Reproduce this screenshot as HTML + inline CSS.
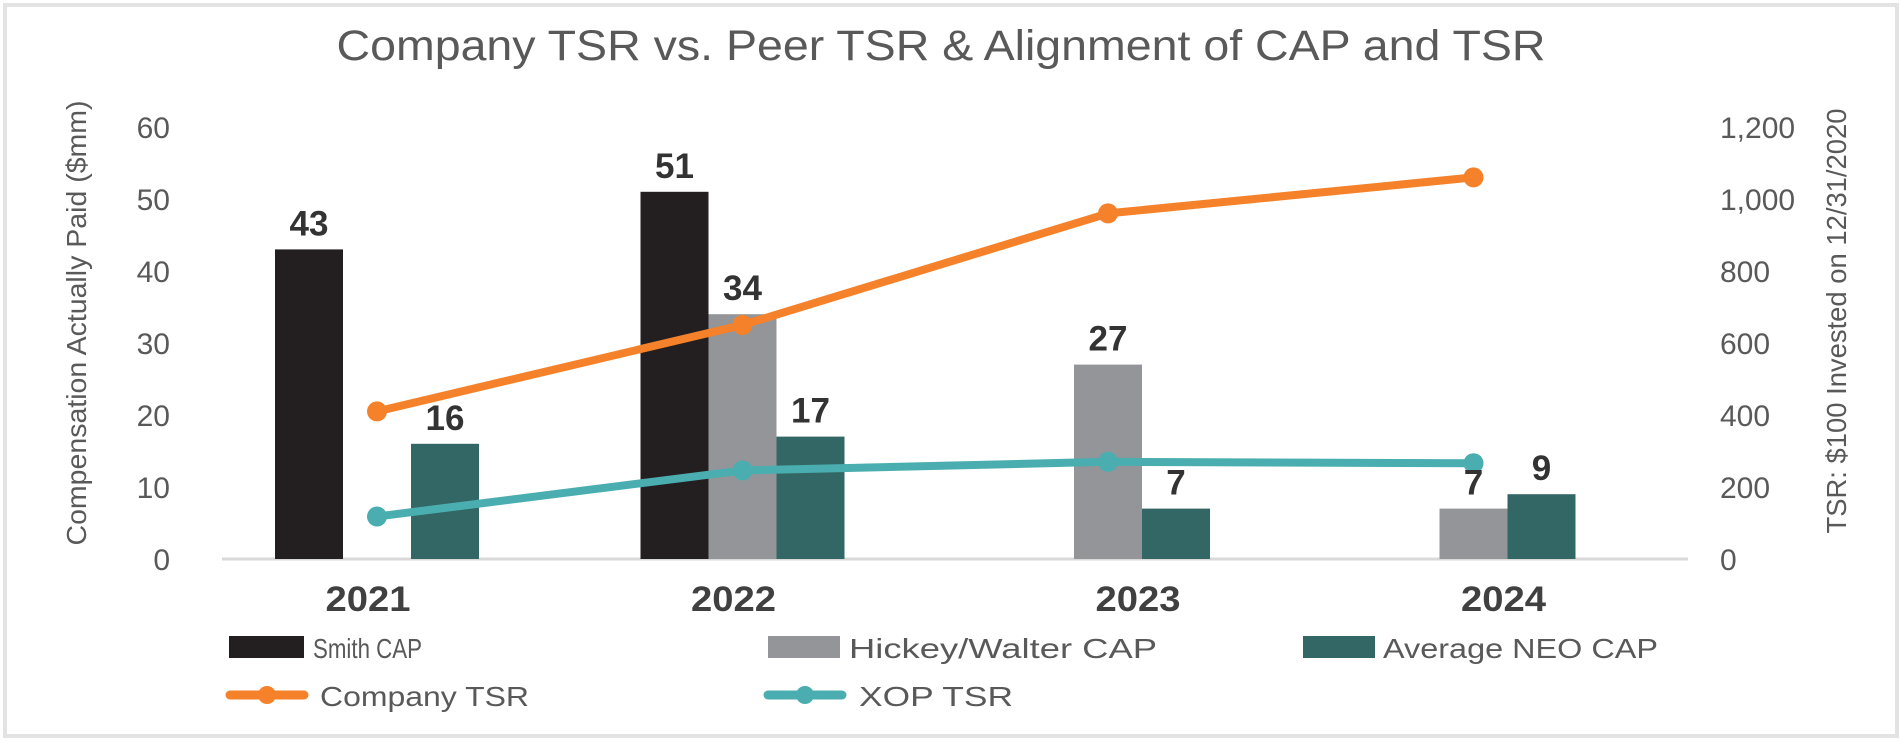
<!DOCTYPE html>
<html><head><meta charset="utf-8"><style>
html,body{margin:0;padding:0;background:#fff;}
svg{display:block;font-family:"Liberation Sans",sans-serif;}
</style></head><body>
<svg id="chart" width="1902" height="741" viewBox="0 0 1902 741">
<rect x="5" y="5" width="1892" height="731" fill="#fff" stroke="#e3e3e3" stroke-width="4"/>
<text x="941" y="60" text-anchor="middle" font-size="43" fill="#595959" textLength="1209" lengthAdjust="spacingAndGlyphs">Company TSR vs. Peer TSR &amp; Alignment of CAP and TSR</text>
<text transform="translate(86,323) rotate(-90)" text-anchor="middle" font-size="28" fill="#595959" textLength="445" lengthAdjust="spacingAndGlyphs">Compensation Actually Paid ($mm)</text>
<text transform="translate(1846,321) rotate(-90)" text-anchor="middle" font-size="28" fill="#595959" textLength="425" lengthAdjust="spacingAndGlyphs">TSR: $100 Invested on 12/31/2020</text>
<line x1="222" y1="559" x2="1688" y2="559" stroke="#d9d9d9" stroke-width="3"/>
<g id="bars"></g><g id="lines"></g><g id="labels"></g>
<g>
<rect x="229" y="636" width="75" height="22" fill="#231f20"/>
<text x="313" y="658" font-size="28" fill="#595959" textLength="109" lengthAdjust="spacingAndGlyphs">Smith CAP</text>
<rect x="768" y="636" width="72" height="22" fill="#939598"/>
<text x="849" y="658" font-size="28" fill="#595959" textLength="308" lengthAdjust="spacingAndGlyphs">Hickey/Walter CAP</text>
<rect x="1303" y="636" width="72" height="22" fill="#336765"/>
<text x="1383" y="658" font-size="28" fill="#595959" textLength="275" lengthAdjust="spacingAndGlyphs">Average NEO CAP</text>
<line x1="230" y1="695" x2="304" y2="695" stroke="#f5822a" stroke-width="9" stroke-linecap="round"/>
<circle cx="267" cy="695" r="9" fill="#f5822a"/>
<text x="320" y="706" font-size="28" fill="#595959" textLength="209" lengthAdjust="spacingAndGlyphs">Company TSR</text>
<line x1="768" y1="695" x2="842" y2="695" stroke="#4aaeb0" stroke-width="9" stroke-linecap="round"/>
<circle cx="805" cy="695" r="9" fill="#4aaeb0"/>
<text x="859" y="706" font-size="28" fill="#595959" textLength="154" lengthAdjust="spacingAndGlyphs">XOP TSR</text>
</g>
<g id="axes"></g>
</svg>
<script>
const categories = ["2021","2022","2023","2024"];
const smithCap = [43, 51, null, null];
const hickeyCap = [null, 34, 27, 7];
const neoCap = [16, 17, 7, 9];
const companyTsr = [410, 650, 960, 1060];
const xopTsr = [118, 246, 270, 266];
const leftTicks = [0,10,20,30,40,50,60];
const rightTicks = [0,200,400,600,800,1000,1200];
const rightTickLabels = ["0","200","400","600","800","1,000","1,200"];

const NS="http://www.w3.org/2000/svg";
const y0=559, yTop=127;
const yL=v=>y0-(v/60)*(y0-yTop);
const yR=v=>y0-(v/1200)*(y0-yTop);
const xC=i=>377+i*365.5;
const bw=68;
function mk(tag,attrs,parent){const e=document.createElementNS(NS,tag);for(const k in attrs)e.setAttribute(k,attrs[k]);document.getElementById(parent).appendChild(e);return e;}

const series=[{d:smithCap,c:"#231f20",off:-1,n:"smith"},{d:hickeyCap,c:"#939598",off:0,n:"hickey"},{d:neoCap,c:"#336765",off:1,n:"neo"}];
series.forEach(s=>{s.d.forEach((v,i)=>{if(v==null)return;
 const x=xC(i)+s.off*bw-bw/2;
 const r=mk("rect",{x:x,y:yL(v),width:bw,height:y0-yL(v),fill:s.c},"bars");
 
 
 const t=mk("text",{x:x+bw/2,y:yL(v)-14,"text-anchor":"middle","font-size":"35","font-weight":"bold",fill:"#333"},"labels");
 t.textContent=v;
 
 
});});

[{d:companyTsr,c:"#f5822a",n:"company-tsr"},{d:xopTsr,c:"#4aaeb0",n:"xop-tsr"}].forEach(s=>{
 const p=mk("polyline",{points:s.d.map((v,i)=>xC(i)+","+yR(v)).join(" "),fill:"none",stroke:s.c,"stroke-width":"8","stroke-linejoin":"round"},"lines");
 
 
 s.d.forEach((v,i)=>{const c=mk("circle",{cx:xC(i),cy:yR(v),r:10,fill:s.c},"lines");
  
  });
});

leftTicks.forEach(v=>{const t=mk("text",{x:170,y:yL(v)+11,"text-anchor":"end","font-size":"30",fill:"#595959"},"axes");
 t.textContent=v;
 
 });
rightTicks.forEach((v,i)=>{const t=mk("text",{x:1720,y:yR(v)+11,"text-anchor":"start","font-size":"30",fill:"#595959"},"axes");
 t.textContent=rightTickLabels[i];
 
 });
categories.forEach((c,i)=>{const t=mk("text",{x:xC(i)+(i>=2?30:-9),y:611,"text-anchor":"middle","font-size":"35","font-weight":"bold",fill:"#404040",textLength:"85",lengthAdjust:"spacingAndGlyphs"},"axes");
 t.textContent=c;
 
 });
</script>
</body></html>
